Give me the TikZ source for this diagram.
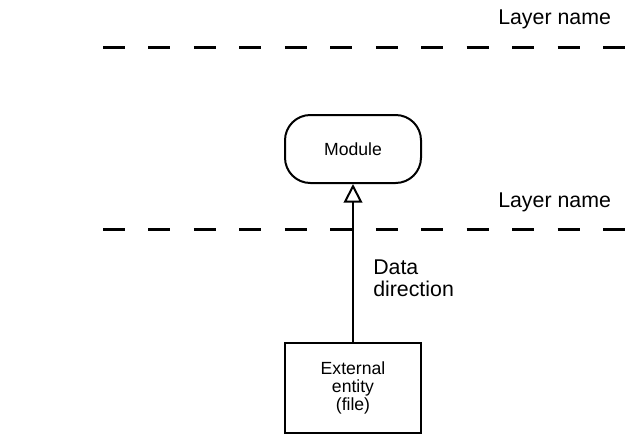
\documentclass[tikz,border=0pt]{standalone}
\usepackage{fontspec}
\setmainfont{Liberation Sans}
\usepackage{tikz}
\usetikzlibrary{positioning,arrows.meta}

\begin{document}
\begin{tikzpicture}
[x=0.75pt, y=-0.75pt, font=\fontsize{13.2}{13.5}\selectfont,
    every node/.style={align=center},
    layerline/.style={draw=black, line width=2.25pt, dash pattern=on 16.5pt off 17.6pt},
    layerlabel/.style={font=\fontsize{16}{16.5}\selectfont, inner sep=0pt, anchor=base west},
    modulebox/.style={draw=black, line width=1.5pt, rectangle, rounded corners=19pt,
        minimum width=102pt, minimum height=51pt},
    entitybox/.style={draw=black, line width=1.5pt, rectangle,
        minimum width=102pt, minimum height=67.5pt},
    dataflow/.style={draw=black, line width=1.5pt,
        -{Triangle[open, length=14pt, width=14pt, line width=1.5pt]}}
    ]

    \useasboundingbox (0,0) rectangle (643,439);

    % layers
    \coordinate (top west) at (103,47);
    \coordinate (top east) at (625,47);
    \coordinate (mid west) at (103,229);
    \coordinate (mid east) at (625,229);
    \draw[layerline] (top west) -- (top east);
    \draw[layerline] (mid west) -- (mid east);
    \node[layerlabel] (toplabel) at (498,25) {Layer name};
    \node[layerlabel] (midlabel) at (498,207) {Layer name};

    % boxes
    \node[modulebox] (module) at (353,149) {Module};
    \node[entitybox] (entity) at (353,388) {External\\entity\\(file)};

    % flow
    \draw[dataflow] (entity) -- (module);
    \node[font=\fontsize{16}{16.5}\selectfont, align=left, inner sep=0pt,
        anchor=north west] (direction) at (373,260) {Data\\direction};
\end{tikzpicture}
\end{document}
